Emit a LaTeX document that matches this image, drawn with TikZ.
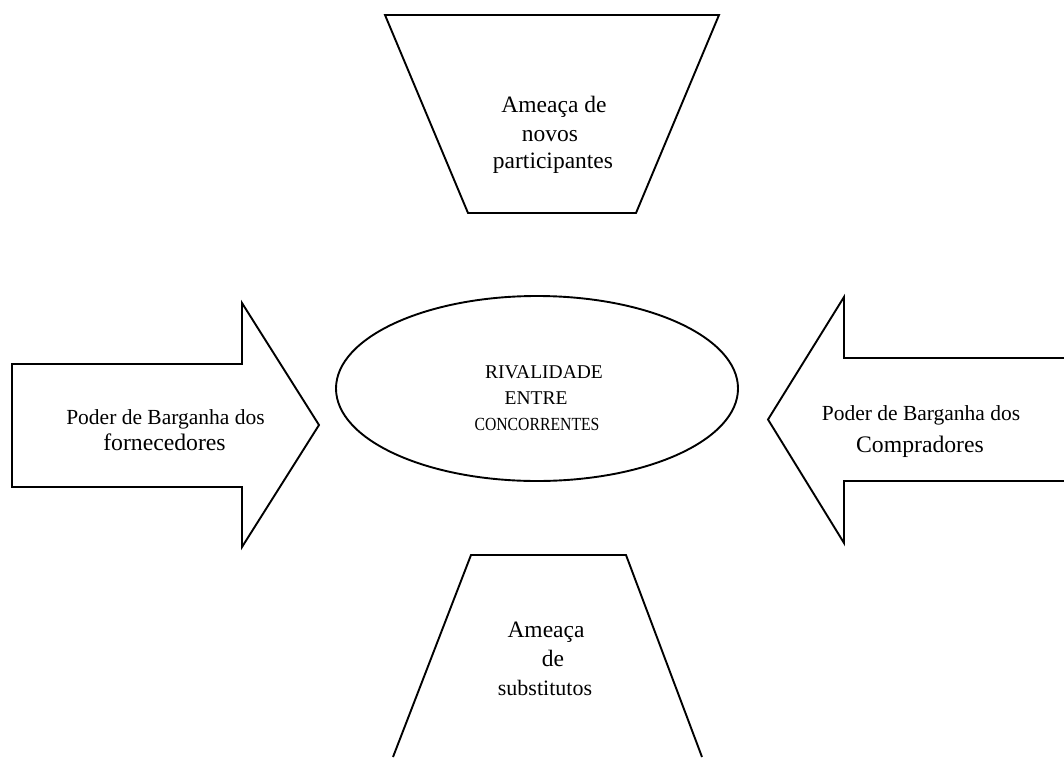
\documentclass[tikz,border=0pt]{standalone}
\usepackage{fontspec}
\setmainfont{Liberation Serif}
\usetikzlibrary{shapes.geometric}
\tikzset{
  shapeline/.style={draw=black, line width=1.9pt, line join=miter},
  lbl/.style={anchor=base, inner sep=0pt, outer sep=0pt},
}
\newcommand{\fsz}[1]{\fontsize{#1}{#1}\selectfont}
\begin{document}
\begin{tikzpicture}[x=1pt,y=-1pt]
\useasboundingbox (0,0) rectangle (1064,757);
% threat of new entrants
\draw[shapeline] (385,15) -- (719,15) -- (636,213) -- (468,213) -- cycle;
% threat of substitutes (cut at bottom edge)
\draw[shapeline] (393,757) -- (471,555) -- (626,555) -- (702,757);
% suppliers arrow
\draw[shapeline] (12,364) -- (242,364) -- (242,303) -- (319,425) -- (242,547) -- (242,487) -- (12,487) -- cycle;
% buyers arrow (cut at right edge)
\draw[shapeline] (1064,358) -- (844,358) -- (844,297) -- (768,419.5) -- (844,543) -- (844,481) -- (1064,481);
% rivalry ellipse
\node[shapeline, ellipse, minimum width=402pt, minimum height=185pt, inner sep=0pt] (rival) at (537,388.5) {};
% texts
\node[lbl, font=\fsz{21.5}] (fa) at (165.5,424) {Poder de Barganha dos};
\node[lbl, font=\fsz{23.7}] (fb) at (164.5,450) {fornecedores};
\node[lbl, font=\fsz{21.5}] (ca) at (921,420) {Poder de Barganha dos};
\node[lbl, font=\fsz{23.7}] (cb) at (920,452) {Compradores};
\node[lbl, font=\fsz{23.5}] (na) at (554,113) {Ameaça de};
\node[lbl, font=\fsz{23.5}] (nb) at (550,141) {novos};
\node[lbl, font=\fsz{23.5}] (nc) at (553,168) {participantes};
\node[lbl, font=\fsz{23.5}] (sa) at (546,637) {Ameaça};
\node[lbl, font=\fsz{23.5}] (sb) at (553,666) {de};
\node[lbl, font=\fsz{22}] (sc) at (545,695) {substitutos};
\node[lbl, font=\fsz{19.5}] (ra) at (544,378) {RIVALIDADE};
\node[lbl, font=\fsz{19.5}] (rb) at (536,404) {ENTRE};
\node[lbl, font=\fsz{18.5}] (rc) at (537,430) {\scalebox{0.85}[1]{CONCORRENTES}};
\end{tikzpicture}
\end{document}
